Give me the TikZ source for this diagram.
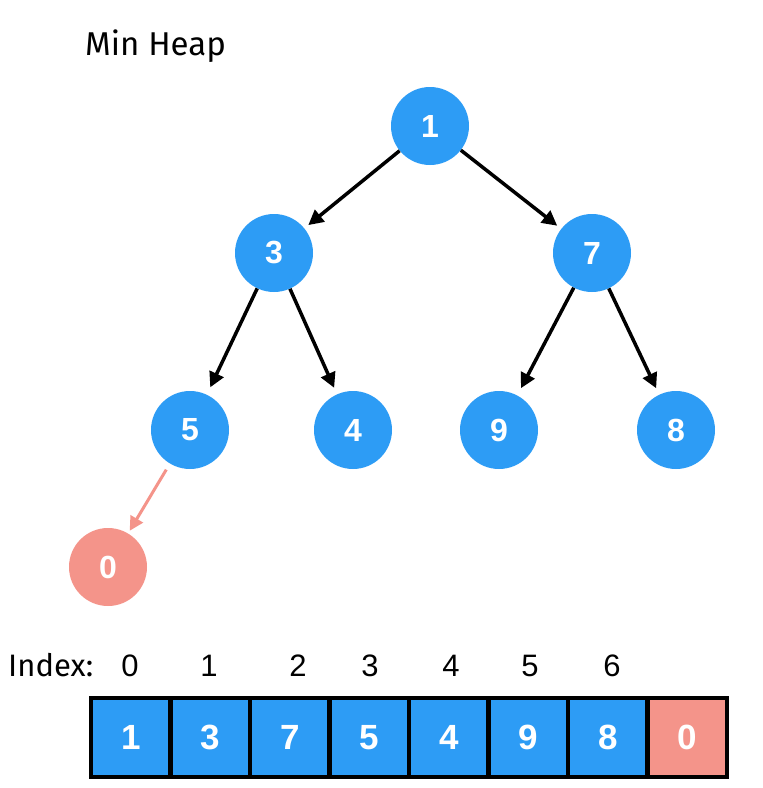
\documentclass[tikz,border=0pt]{standalone}
\usepackage{fontspec}
\setmainfont{Liberation Sans}
\newfontfamily\hand{Fira Sans}
\usetikzlibrary{arrows.meta}
\definecolor{heapblue}{RGB}{45,156,245}
\definecolor{heapred}{RGB}{244,148,138}
\begin{document}
\begin{tikzpicture}[x=1pt,y=-1pt,
  hnode/.style={circle,fill=heapblue,minimum size=78pt,inner sep=0pt,text=white,font=\fontsize{32}{32}\selectfont\bfseries},
  rnode/.style={hnode,fill=heapred},
  edgearrow/.style={line width=3.5pt,-{Triangle[length=15pt,width=15pt]},shorten >=5pt},
  redarrow/.style={line width=3pt,draw=heapred,-{Triangle[length=14pt,width=14pt]},shorten >=3pt,shorten <=7pt},
  cell/.style={rectangle,draw=black,line width=4.5pt,fill=heapblue,minimum width=79.5pt,minimum height=79pt,inner sep=0pt,text=white,font=\fontsize{35}{35}\selectfont\bfseries},
  rcell/.style={cell,fill=heapred},
  idx/.style={font=\fontsize{31}{31}\selectfont,inner sep=0pt},
  handtext/.style={font=\hand\fontsize{#1}{#1}\selectfont,inner sep=0pt}
]
\useasboundingbox (0,0) rectangle (763,788);

\node[handtext=33, anchor=base west] (title) at (85,55) {Min Heap};

\node[hnode] (n1) at (430,126) {1};
\node[hnode] (n3) at (274,253) {3};
\node[hnode] (n7) at (592,253) {7};
\node[hnode] (n5) at (190,430) {5};
\node[hnode] (n4) at (353,430) {4};
\node[hnode] (n9) at (499,430) {9};
\node[hnode] (n8) at (676,430) {8};
\node[rnode] (n0) at (108,567) {0};

\draw[edgearrow] (n1) -- (n3);
\draw[edgearrow] (n1) -- (n7);
\draw[edgearrow,shorten >=8pt] (n3) -- (n5);
\draw[edgearrow,shorten >=7pt] (n3) -- (n4);
\draw[edgearrow,shorten >=8pt] (n7) -- (n9);
\draw[edgearrow,shorten >=7pt] (n7) -- (n8);
\draw[redarrow] (n5) -- (n0);

\node[handtext=31, anchor=base west] (indexlabel) at (8,676) {Index:};
\node[idx] (i0) at (130,666) {0};
\node[idx] (i1) at (209,666) {1};
\node[idx] (i2) at (298,666) {2};
\node[idx] (i3) at (370,666) {3};
\node[idx] (i4) at (451,666) {4};
\node[idx] (i5) at (530,666) {5};
\node[idx] (i6) at (612,666) {6};

\node[cell] (c0) at (130.75,737.5) {1};
\node[cell] (c1) at (210.25,737.5) {3};
\node[cell] (c2) at (289.75,737.5) {7};
\node[cell] (c3) at (369.25,737.5) {5};
\node[cell] (c4) at (448.75,737.5) {4};
\node[cell] (c5) at (528.25,737.5) {9};
\node[cell] (c6) at (607.75,737.5) {8};
\node[rcell] (c7) at (687.25,737.5) {0};
\end{tikzpicture}
\end{document}
